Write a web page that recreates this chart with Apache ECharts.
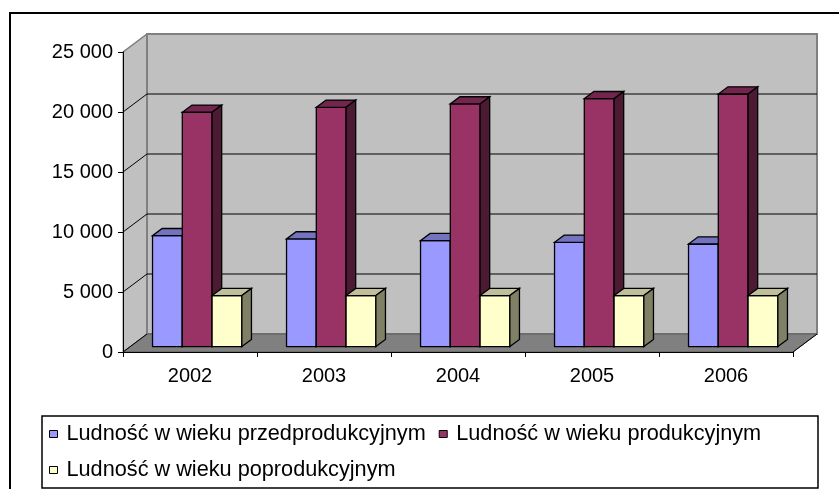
<!DOCTYPE html>
<html><head><meta charset="utf-8">
<script src="https://cdn.jsdelivr.net/npm/echarts/dist/echarts.min.js"></script>
<style>html,body{margin:0;padding:0;background:#fff}#c{width:839px;height:489px}</style>
</head><body><div id="c"></div>
<script>
// ---- data ----
const categories = ['2002', '2003', '2004', '2005', '2006'];
const seriesNames = ['Ludność w wieku przedprodukcyjnym', 'Ludność w wieku produkcyjnym', 'Ludność w wieku poprodukcyjnym'];
const preProductive = [9240, 8970, 8830, 8690, 8550];
const productive = [19530, 19940, 20220, 20660, 21050];
const postProductive = [4250, 4250, 4250, 4250, 4250];
const yTicks = [0, 5000, 10000, 15000, 20000, 25000];

// ---- style ----
const FONT = '"Liberation Sans", Arial, sans-serif';
const LEGEND_FS = 21.7;
const DX = 24, DY = -18;           // depth of the 3D box
const BAR_FRONT = 0.3, BAR_DEPTH = 0.4;
const palettes = [
  {front: '#9999FF', top: '#7373BF', side: '#4D4D80'},
  {front: '#993366', top: '#73264D', side: '#4D1A33'},
  {front: '#FFFFCC', top: '#BFBF99', side: '#808066'}
];
const yMax = yTicks[yTicks.length - 1];

function fmt(v) { return String(v).replace(/\B(?=(\d{3})+(?!\d))/g, ' '); }
function quad(x, y, w, h) { return [[x, y], [x + w, y], [x + w, y + h], [x, y + h]]; }

function renderWalls(params, api) {
  const cw = api.size([1, 0])[0];
  const x0 = api.coord([0, 0])[0] - cw / 2;
  const x1 = x0 + cw * categories.length;
  const y0 = api.coord([0, 0])[1];
  const yT = api.coord([0, yMax])[1];
  const ch = [];
  ch.push({type: 'polygon', shape: {points: [[x0, y0], [x0, yT], [x0 + DX, yT + DY], [x0 + DX, y0 + DY]]},
    style: {fill: '#C0C0C0', stroke: '#808080', lineWidth: 1}});
  ch.push({type: 'polygon', shape: {points: quad(x0 + DX, yT + DY, x1 - x0, y0 - yT)},
    style: {fill: '#C0C0C0', stroke: '#808080', lineWidth: 2}});
  ch.push({type: 'polygon', shape: {points: [[x0, y0], [x1, y0], [x1 + DX, y0 + DY], [x0 + DX, y0 + DY]]},
    style: {fill: '#808080', stroke: '#5a5a5a', lineWidth: 1}});
  ch.push({type: 'line', shape: {x1: x1, y1: y0, x2: x1 + DX, y2: y0 + DY}, style: {stroke: '#000', lineWidth: 1}});
  ch.push({type: 'line', shape: {x1: x0, y1: y0, x2: x0 + DX, y2: y0 + DY}, style: {stroke: '#000', lineWidth: 1}});
  yTicks.forEach(function (v) {
    if (v === 0) return;
    const y = api.coord([0, v])[1];
    const col = v === yMax ? '#808080' : '#000';
    const pts = v === yMax ? [[x0, y], [x0 + DX, y + DY]] : [[x0, y], [x0 + DX, y + DY], [x1 + DX, y + DY]];
    ch.push({type: 'polyline', shape: {points: pts}, style: {stroke: col, lineWidth: v === yMax ? 1.5 : 1, fill: null}});
  });
  return {type: 'group', children: ch};
}

function barRenderer(k) {
  const p = palettes[k];
  return function (params, api) {
    const idx = api.value(0), val = api.value(1);
    const base = api.coord([idx, 0]);
    const top = api.coord([idx, val]);
    const cw = api.size([1, 0])[0];
    const bw = cw / 4.5;
    const l = base[0] - 1.5 * bw + k * bw + DX * BAR_FRONT;
    const r = l + bw;
    const yb = base[1] + DY * BAR_FRONT, yt = top[1] + DY * BAR_FRONT;
    const ddx = DX * BAR_DEPTH, ddy = DY * BAR_DEPTH;
    const st = function (c) { return {fill: c, stroke: '#000', lineWidth: 1.3}; };
    return {type: 'group', children: [
      {type: 'polygon', shape: {points: [[l, yb], [r, yb], [r, yt], [l, yt]]}, style: st(p.front)},
      {type: 'polygon', shape: {points: [[l, yt], [r, yt], [r + ddx, yt + ddy], [l + ddx, yt + ddy]]}, style: st(p.top)},
      {type: 'polygon', shape: {points: [[r, yb], [r + ddx, yb + ddy], [r + ddx, yt + ddy], [r, yt]]}, style: st(p.side)}
    ]};
  };
}

const allValues = [preProductive, productive, postProductive];
const barSeries = allValues.map(function (arr, k) {
  return {
    type: 'custom', name: seriesNames[k], z: 3,
    renderItem: barRenderer(k),
    itemStyle: {color: palettes[k].front, borderColor: '#000', borderWidth: 1},
    encode: {x: 0, y: 1},
    data: arr.map(function (v, i) { return [i, v]; })
  };
});

// legend gap so that the first row ends near the right of the legend box
const mctx = document.createElement('canvas').getContext('2d');
mctx.font = LEGEND_FS + 'px ' + FONT;
const w1 = mctx.measureText(seriesNames[0]).width, w2 = mctx.measureText(seriesNames[1]).width;
const legendGap = Math.max(4, Math.round(760 - 49 - 2 * (8 + 5 + 4) - w1 - w2));

const legendCommon = {
  orient: 'horizontal', icon: 'rect', itemWidth: 8, itemHeight: 7, itemGap: legendGap, padding: 0,
  selectedMode: false,
  itemStyle: {borderColor: '#000', borderWidth: 1},
  textStyle: {fontFamily: FONT, fontSize: LEGEND_FS, color: '#000', padding: [0, 0, 0, 4]}
};

const chart = echarts.init(document.getElementById('c'), null, {renderer: 'canvas'});
chart.setOption({
  animation: false,
  backgroundColor: '#fff',
  grid: {left: 123, right: 46, top: 52, bottom: 137, containLabel: false},
  xAxis: {
    type: 'category', data: categories, boundaryGap: true, z: 5,
    axisLine: {lineStyle: {color: '#000', width: 1}},
    axisTick: {show: true, length: 5, alignWithLabel: false, lineStyle: {color: '#000'}},
    axisLabel: {fontFamily: FONT, fontSize: 20, color: '#000', margin: 14},
    splitLine: {show: false}
  },
  yAxis: {
    type: 'value', min: 0, max: yMax, interval: 5000, z: 5,
    axisLine: {show: true, lineStyle: {color: '#000', width: 1}},
    axisTick: {show: true, length: 5, lineStyle: {color: '#000'}},
    axisLabel: {fontFamily: FONT, fontSize: 20, color: '#000', margin: 10, formatter: fmt},
    splitLine: {show: false}
  },
  legend: [
    Object.assign({}, legendCommon, {left: 49, top: 423, data: [seriesNames[0], seriesNames[1]]}),
    Object.assign({}, legendCommon, {left: 49, top: 459, data: [seriesNames[2]]})
  ],
  graphic: [
    {type: 'polygon', silent: true, z: -10, shape: {points: quad(10, 13, 900, 600)}, style: {fill: null, stroke: '#000', lineWidth: 2}},
    {type: 'polygon', silent: true, z: -10, shape: {points: quad(42, 416, 776, 72)}, style: {fill: null, stroke: '#000', lineWidth: 1.5}}
  ],
  series: [{
    type: 'custom', name: 'walls', z: 1, silent: true,
    renderItem: renderWalls, encode: {x: 0, y: 1}, data: [[0, 0]]
  }].concat(barSeries)
});
</script></body></html>
